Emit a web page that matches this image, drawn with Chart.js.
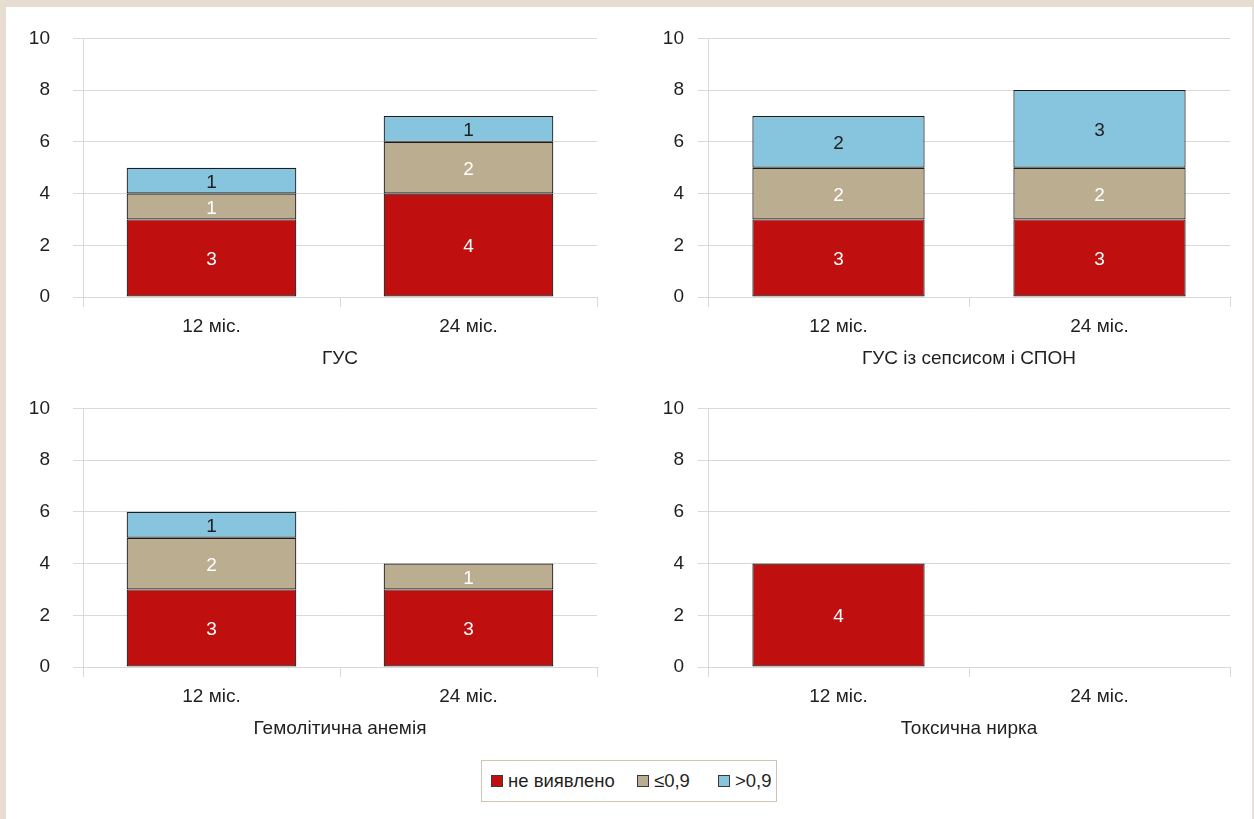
<!DOCTYPE html>
<html lang="uk">
<head>
<meta charset="utf-8">
<title>Стадії ураження нирок</title>
<script src="https://cdn.jsdelivr.net/npm/chart.js@4.4.1/dist/chart.umd.min.js"></script>
<style>
  html, body { margin: 0; padding: 0; }
  body {
    width: 1254px; height: 819px; overflow: hidden;
    background: #e6ddd0; position: relative;
    font-family: "Liberation Sans", Arial, sans-serif;
  }
  #sheet {
    position: absolute; left: 6px; top: 7px; width: 1246px; height: 820px;
    background: #ffffff; border-right: 1px solid #e4e4e4;
  }
  .panel { position: absolute; }
  #legend {
    position: absolute; left: 481px; top: 760px; width: 294px; height: 40px;
    border: 1px solid #cdc4b3; background: #fff;
    font-size: 18.5px; color: #1f1f1f;
  }
  #legend .item { display: flex; align-items: center; position: absolute; top: 9px; }
  #legend .sw {
    width: 10px; height: 10px; border: 1px solid #3a3a3a; margin-right: 5px;
  }
</style>
</head>
<body>
<div id="sheet"></div>
<canvas id="c1" class="panel"></canvas>
<canvas id="c2" class="panel"></canvas>
<canvas id="c3" class="panel"></canvas>
<canvas id="c4" class="panel"></canvas>
<div id="legend"></div>

<script>
// Categories and series
const categories = ['12 міс.', '24 міс.'];
const seriesNames = ['не виявлено', '≤0,9', '>0,9'];
const yTicks = [0, 2, 4, 6, 8, 10];

// ГУС
const gusNone = [3, 4];
const gusLow = [1, 2];
const gusHigh = [1, 1];

// ГУС із сепсисом і СПОН
const sepsisNone = [3, 3];
const sepsisLow = [2, 2];
const sepsisHigh = [2, 3];

// Гемолітична анемія
const anemiaNone = [3, 3];
const anemiaLow = [2, 1];
const anemiaHigh = [1, 0];

// Токсична нирка
const kidneyNone = [4, 0];
const kidneyLow = [0, 0];
const kidneyHigh = [0, 0];

const panelTitles = ['ГУС', 'ГУС із сепсисом і СПОН', 'Гемолітична анемія', 'Токсична нирка'];

// Styling
const fillColors = ['#c00f0f', '#bbad8f', '#87c4de'];
const labelColors = ['#ffffff', '#ffffff', '#1f1f1f'];
const textColor = '#1f1f1f';
const gridColor = '#d9d9d9';
const fontFamily = '"Liberation Sans", Arial, sans-serif';
const fontSize = 19;
const lineHeight = fontSize * 1.2;

// Value labels centred inside each stacked segment
const segmentLabels = {
  id: 'segmentLabels',
  afterDatasetsDraw(chart) {
    const ctx = chart.ctx;
    ctx.save();
    ctx.font = fontSize + 'px ' + fontFamily;
    ctx.textAlign = 'center';
    ctx.textBaseline = 'middle';
    chart.data.datasets.forEach((ds, di) => {
      const meta = chart.getDatasetMeta(di);
      meta.data.forEach((bar, i) => {
        const v = ds.data[i];
        if (!v) return;
        ctx.fillStyle = labelColors[di];
        ctx.fillText(String(v), bar.x, (bar.y + bar.base) / 2 + 2);
      });
    });
    ctx.restore();
  }
};

// Plot-area geometry of each panel: left, top, right, bottom, y-label gap
const yAxisWidth = 60, padRight = 5, xAxisHeight = 75;
const panels = [
  { id: 'c1', left: 83,  top: 38,  right: 597,  bottom: 297, gap: 23, series: [gusNone, gusLow, gusHigh] },
  { id: 'c2', left: 708, top: 38,  right: 1230, bottom: 297, gap: 14, series: [sepsisNone, sepsisLow, sepsisHigh] },
  { id: 'c3', left: 83,  top: 408, right: 597,  bottom: 667, gap: 23, series: [anemiaNone, anemiaLow, anemiaHigh] },
  { id: 'c4', left: 708, top: 408, right: 1230, bottom: 667, gap: 14, series: [kidneyNone, kidneyLow, kidneyHigh] }
];

panels.forEach((p, idx) => {
  const canvas = document.getElementById(p.id);
  // the y axis reserves half a label line plus its tick padding above the plot
  const topReserve = lineHeight / 2 + p.gap;
  const cl = p.left - yAxisWidth;
  const ct = Math.round(p.top - topReserve);
  const w = p.right + padRight - cl;
  const h = p.bottom + xAxisHeight - ct;
  canvas.style.left = cl + 'px';
  canvas.style.top = ct + 'px';
  canvas.style.width = w + 'px';
  canvas.style.height = h + 'px';
  canvas.width = w;
  canvas.height = h;

  new Chart(canvas, {
    type: 'bar',
    data: {
      labels: categories,
      datasets: p.series.map((vals, si) => ({
        label: seriesNames[si],
        data: vals,
        backgroundColor: fillColors[si],
        borderColor: '#1c1c1c',
        borderWidth: 1.2,
        borderSkipped: false,
        categoryPercentage: 1,
        barPercentage: 0.66,
        clip: false
      }))
    },
    options: {
      responsive: false,
      animation: false,
      layout: { padding: { top: 0, right: padRight, left: 0, bottom: 0 } },
      plugins: { legend: { display: false }, tooltip: { enabled: false } },
      scales: {
        x: {
          stacked: true,
          afterFit: s => { s.height = xAxisHeight; },
          grid: {
            offset: true, drawOnChartArea: false, drawTicks: true,
            tickLength: 10, color: gridColor
          },
          border: { display: true, color: gridColor },
          ticks: {
            padding: 8, color: textColor,
            font: { family: fontFamily, size: fontSize }
          },
          title: {
            display: true, text: panelTitles[idx], color: textColor,
            font: { family: fontFamily, size: fontSize },
            padding: { top: 0, bottom: 2 }
          }
        },
        y: {
          stacked: true,
          min: 0, max: 10,
          afterFit: s => { s.width = yAxisWidth; },
          afterBuildTicks: s => { s.ticks = yTicks.map(v => ({ value: v })); },
          grid: { color: gridColor, tickLength: 10 },
          border: { display: true, color: gridColor },
          ticks: {
            padding: p.gap, color: textColor,
            font: { family: fontFamily, size: fontSize }
          }
        }
      }
    },
    plugins: [segmentLabels]
  });
});

// Legend built from the series names and colours
const legend = document.getElementById('legend');
const legendX = [9, 155, 236];
seriesNames.forEach((name, i) => {
  const item = document.createElement('div');
  item.className = 'item';
  item.style.left = legendX[i] + 'px';
  const sw = document.createElement('span');
  sw.className = 'sw';
  sw.style.background = fillColors[i];
  const tx = document.createElement('span');
  tx.textContent = name;
  item.appendChild(sw);
  item.appendChild(tx);
  legend.appendChild(item);
});
</script>
</body>
</html>
